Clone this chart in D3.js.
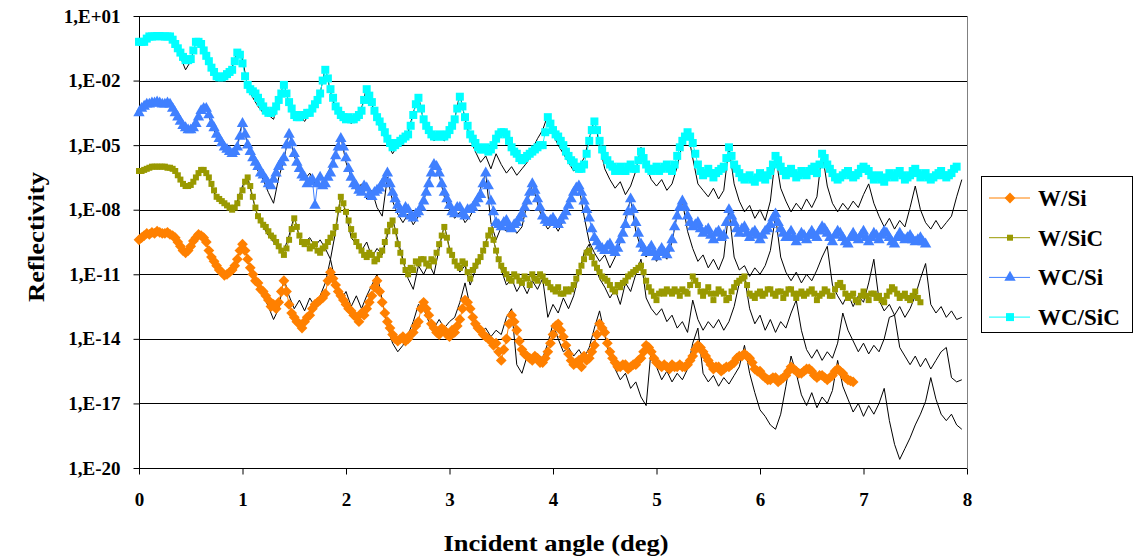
<!DOCTYPE html>
<html>
<head>
<meta charset="utf-8">
<script src="https://cdn.jsdelivr.net/npm/d3@7/dist/d3.min.js"></script>
<style>
  body { margin: 0; background: #fff; }
  svg { display: block; font-family: "Liberation Serif", "Times New Roman", serif; font-weight: bold; }
</style>
</head>
<body>
<svg id="chart"></svg>
<script>
// measured scans are sampled every 0.025 deg, simulations every 0.05 deg, both from 0 deg
const DATA_STEP = 0.025;
const FIT_STEP = 0.05;

// log10(reflectivity), measured, one row = 0.5 deg
const wSi = [
  -9.4,-9.3,-9.2,-9.1,-9.15,-9.05,-9.1,-9.0,-9.05,-9.1,-9.1,-9.05,-9.15,-9.2,-9.3,-9.5,-9.7,-9.9,-10.0,-9.9,
  -9.7,-9.45,-9.3,-9.15,-9.2,-9.3,-9.5,-9.9,-10.2,-10.4,-10.6,-10.8,-10.9,-11.05,-11.0,-10.9,-10.8,-10.6,-10.3,-9.9,
  -9.6,-9.9,-10.3,-10.7,-11.0,-11.3,-11.4,-11.7,-11.8,-12.0,-12.2,-12.5,-12.4,-12.6,-12.3,-11.8,-11.3,-11.8,-12.4,-12.8,
  -13.0,-13.2,-13.3,-13.5,-13.2,-13.0,-12.9,-12.6,-12.4,-12.3,-12.2,-12.1,-11.9,-11.3,-10.9,-11.2,-11.5,-11.8,-12.0,-12.2,
  -12.4,-12.6,-12.7,-12.9,-13.0,-13.2,-12.8,-12.9,-12.6,-12.3,-12.0,-11.6,-11.3,-11.8,-12.3,-12.8,-13.2,-13.5,-13.8,-14.0,
  -14.1,-14.0,-13.9,-14.1,-14.0,-13.8,-13.7,-13.4,-13.2,-12.6,-12.3,-12.6,-12.9,-13.3,-13.5,-13.7,-13.8,-13.5,-13.6,-13.8,
  -13.9,-13.6,-13.7,-13.4,-13.1,-12.6,-12.2,-12.3,-12.6,-13.0,-13.3,-13.5,-13.6,-13.8,-13.9,-14.0,-14.1,-14.3,-14.2,-14.6,
  -15.0,-14.5,-14.0,-13.3,-12.9,-13.2,-13.6,-14.1,-14.5,-14.7,-14.8,-14.9,-15.0,-14.8,-14.9,-15.1,-15.1,-14.9,-14.6,-14.2,
  -13.8,-13.4,-13.3,-13.6,-13.9,-14.3,-14.7,-15.0,-15.2,-15.1,-15.0,-15.3,-14.8,-15.0,-14.9,-14.6,-14.3,-13.8,-13.3,-13.5,
  -13.7,-14.2,-14.6,-14.9,-15.1,-15.3,-15.3,-15.2,-15.2,-15.4,-15.3,-15.2,-15.2,-15.0,-14.9,-14.6,-14.3,-14.4,-14.6,-14.9,
  -15.1,-15.2,-15.3,-15.2,-15.3,-15.4,-15.2,-15.3,-15.3,-15.2,-15.3,-15.3,-15.2,-15.0,-14.8,-14.5,-14.3,-14.4,-14.6,-14.8,
  -15.0,-15.2,-15.4,-15.3,-15.3,-15.5,-15.4,-15.3,-15.3,-15.2,-15.1,-14.9,-14.8,-14.8,-14.7,-14.8,-14.9,-15.1,-15.4,-15.5,
  -15.5,-15.7,-15.8,-15.9,-15.9,-15.8,-15.8,-16.0,-15.9,-15.8,-15.7,-15.5,-15.3,-15.4,-15.5,-15.6,-15.6,-15.5,-15.4,-15.4,
  -15.5,-15.7,-15.8,-15.7,-15.7,-15.8,-15.9,-15.8,-15.7,-15.5,-15.4,-15.5,-15.6,-15.8,-15.9,-15.95,-16.0
];
const wSiC = [
  -6.2,-6.2,-6.15,-6.1,-6.05,-6.0,-6.0,-6.0,-6.0,-6.0,-6.0,-6.05,-6.05,-6.1,-6.2,-6.4,-6.6,-6.8,-6.9,-6.9,
  -6.85,-6.7,-6.5,-6.3,-6.15,-6.15,-6.3,-6.5,-6.8,-7.1,-7.4,-7.5,-7.6,-7.7,-7.8,-7.9,-8.0,-7.9,-7.7,-7.4,
  -7.1,-6.7,-6.5,-6.9,-7.4,-7.9,-8.3,-8.5,-8.7,-8.8,-9.0,-9.2,-9.3,-9.5,-9.7,-9.9,-10.1,-9.8,-9.4,-8.9,
  -8.4,-8.8,-9.2,-9.5,-9.6,-9.5,-9.8,-9.7,-9.6,-9.9,-10.0,-9.8,-9.7,-9.5,-9.3,-9.1,-8.8,-8.0,-7.4,-7.7,
  -8.1,-8.5,-8.9,-9.2,-9.5,-9.7,-9.9,-10.1,-10.2,-10.0,-10.1,-10.4,-10.3,-10.1,-9.9,-9.5,-9.0,-8.7,-8.5,-9.0,
  -9.6,-10.0,-10.4,-10.8,-11.0,-10.7,-10.8,-10.4,-10.5,-10.3,-10.3,-10.5,-10.6,-10.3,-10.4,-10.0,-9.6,-9.2,-8.8,-9.3,
  -9.9,-10.1,-10.4,-10.6,-10.7,-10.4,-10.5,-10.9,-11.2,-10.8,-10.6,-10.4,-10.2,-9.9,-9.6,-9.2,-8.95,-9.4,-9.9,-10.3,
  -10.6,-10.8,-11.0,-11.2,-11.3,-11.0,-11.1,-11.3,-11.4,-11.1,-11.2,-11.5,-11.0,-11.2,-11.3,-11.0,-11.1,-11.3,-11.4,-11.6,
  -11.7,-11.8,-11.6,-11.9,-11.9,-11.7,-11.8,-11.7,-11.5,-11.2,-10.9,-10.6,-10.3,-10.0,-9.9,-10.2,-10.5,-10.7,-10.9,-11.1,
  -11.2,-11.3,-11.5,-11.7,-11.8,-11.5,-11.6,-11.4,-11.3,-11.1,-11.0,-10.9,-10.8,-10.7,-10.6,-10.9,-11.3,-11.6,-11.8,-12.0,
  -12.2,-11.9,-11.8,-11.9,-11.7,-11.8,-11.9,-11.7,-11.8,-12.0,-11.7,-11.8,-11.9,-11.5,-11.1,-11.3,-11.5,-11.8,-12.0,-11.8,
  -11.6,-11.9,-12.2,-11.9,-11.7,-11.8,-11.9,-12.2,-12.1,-11.8,-11.6,-11.4,-11.3,-11.2,-11.1,-11.5,-11.9,-12.0,-12.1,-11.9,
  -11.8,-12.0,-11.9,-11.7,-11.7,-11.9,-12.0,-11.8,-11.8,-12.1,-11.9,-11.7,-11.7,-11.9,-12.1,-11.9,-11.8,-12.0,-11.9,-11.8,
  -11.7,-11.9,-12.2,-12.0,-11.9,-11.7,-11.8,-12.0,-12.0,-11.7,-11.5,-11.4,-11.6,-11.9,-12.1,-12.0,-11.9,-12.2,-12.3,-12.0,
  -11.8,-12.0,-12.2,-11.9,-11.9,-12.1,-12.0,-12.2,-12.3,-12.0,-11.8,-11.6,-11.7,-11.9,-12.1,-12.0,-11.9,-12.1,-12.2,-12.0,
  -11.8,-12.1,-12.3
];
const wcSi = [
  -3.5,-3.3,-3.2,-3.1,-3.1,-3.05,-3.05,-3.0,-3.05,-3.1,-3.1,-3.05,-3.1,-3.3,-3.5,-3.7,-3.9,-4.1,-4.2,-4.3,
  -4.3,-4.2,-4.0,-3.7,-3.4,-3.3,-3.3,-3.6,-4.0,-4.2,-4.5,-4.7,-4.9,-5.1,-5.2,-5.3,-5.4,-5.3,-5.1,-4.6,
  -4.0,-4.5,-5.0,-5.3,-5.6,-5.8,-6.0,-6.3,-6.4,-6.6,-6.8,-6.9,-6.6,-6.3,-6.0,-5.8,-5.6,-5.0,-4.5,-4.9,
  -5.4,-5.8,-6.1,-6.4,-6.5,-6.8,-6.7,-6.6,-7.8,-6.8,-6.5,-6.9,-6.8,-6.5,-6.3,-5.9,-5.5,-5.1,-4.7,-5.1,
  -5.6,-6.1,-6.5,-6.8,-6.9,-7.1,-7.2,-6.9,-7.0,-7.3,-7.4,-7.2,-7.1,-7.0,-6.8,-6.6,-6.3,-6.8,-7.2,-7.5,
  -7.8,-8.0,-8.2,-7.9,-8.0,-8.3,-8.4,-8.2,-8.1,-7.9,-7.6,-7.2,-6.8,-6.3,-5.9,-6.0,-6.3,-6.8,-7.2,-7.5,
  -7.8,-8.1,-8.2,-7.9,-7.9,-8.2,-8.3,-8.0,-8.0,-7.9,-7.7,-7.5,-7.3,-6.8,-6.3,-6.9,-7.6,-8.1,-8.6,-8.7,
  -8.8,-8.6,-8.5,-8.8,-8.9,-8.7,-8.6,-8.4,-8.2,-7.9,-7.6,-7.2,-6.8,-7.1,-7.5,-7.9,-8.3,-8.5,-8.6,-8.5,
  -8.4,-8.6,-8.7,-8.5,-8.3,-8.1,-7.8,-7.5,-7.2,-7.0,-6.9,-7.2,-7.6,-8.0,-8.4,-8.9,-9.3,-9.5,-9.7,-9.8,
  -9.9,-9.7,-9.6,-9.9,-10.0,-9.8,-9.4,-9.1,-8.7,-8.1,-7.5,-8.0,-8.6,-9.1,-9.6,-9.8,-10.0,-9.9,-9.7,-10.0,
  -10.2,-10.0,-9.8,-10.0,-10.1,-9.8,-9.4,-8.8,-8.3,-7.9,-7.6,-7.9,-8.3,-8.6,-8.8,-8.7,-8.6,-8.9,-9.1,-9.0,
  -8.9,-9.2,-9.4,-9.1,-9.0,-9.3,-9.2,-8.6,-8.0,-8.3,-8.6,-8.9,-9.1,-8.9,-8.8,-9.1,-9.3,-9.1,-9.0,-9.2,
  -9.4,-9.2,-9.0,-8.9,-8.7,-8.4,-8.2,-8.6,-8.9,-9.1,-9.3,-9.2,-9.0,-9.3,-9.5,-9.3,-9.1,-9.2,-9.4,-9.2,
  -9.0,-9.2,-9.3,-9.0,-8.8,-8.9,-9.1,-9.3,-9.5,-9.2,-9.0,-9.1,-9.3,-9.5,-9.6,-9.3,-9.1,-9.3,-9.4,-9.2,
  -9.0,-9.3,-9.5,-9.3,-9.1,-9.2,-9.4,-9.2,-9.0,-9.1,-9.3,-9.5,-9.6,-9.3,-9.1,-9.3,-9.4,-9.3,-9.2,-9.4,
  -9.5,-9.4,-9.3,-9.5,-9.6
];
const wcSiC = [
  -0.2,-0.2,-0.2,-0.05,0.05,0.05,0.05,0.07,0.07,0.05,0.05,0.05,0.05,-0.1,-0.3,-0.5,-0.7,-0.9,-1.05,-1.05,
  -1.0,-0.6,-0.2,-0.2,-0.3,-0.6,-0.85,-1.1,-1.4,-1.6,-1.8,-1.85,-1.85,-1.8,-1.7,-1.6,-1.5,-1.1,-0.7,-0.8,
  -1.2,-1.8,-2.2,-2.4,-2.5,-2.6,-2.8,-3.0,-3.2,-3.4,-3.5,-3.5,-3.4,-3.2,-2.9,-2.6,-2.2,-2.6,-3.0,-3.3,
  -3.6,-3.7,-3.7,-3.6,-3.6,-3.5,-3.5,-3.3,-3.1,-2.9,-2.6,-2.0,-1.5,-1.9,-2.4,-2.8,-3.2,-3.4,-3.6,-3.7,
  -3.8,-3.7,-3.8,-3.8,-3.7,-3.6,-3.4,-2.9,-2.4,-2.7,-3.0,-3.4,-3.7,-3.9,-4.15,-4.4,-4.7,-4.9,-5.1,-5.0,
  -4.9,-4.8,-4.7,-4.6,-4.5,-4.1,-3.6,-3.1,-2.8,-3.3,-3.8,-4.1,-4.3,-4.5,-4.6,-4.6,-4.5,-4.6,-4.6,-4.5,
  -4.3,-4.1,-3.8,-3.3,-2.75,-3.2,-3.7,-4.1,-4.5,-4.7,-4.9,-5.1,-5.2,-5.2,-5.1,-5.3,-5.2,-5.0,-4.7,-4.5,
  -4.4,-4.4,-4.5,-4.8,-5.1,-5.3,-5.4,-5.6,-5.7,-5.6,-5.5,-5.4,-5.3,-5.2,-5.1,-5.0,-5.0,-4.4,-3.7,-4.0,
  -4.3,-4.5,-4.6,-4.8,-5.0,-5.3,-5.5,-5.7,-5.8,-6.0,-6.1,-6.1,-5.9,-5.4,-4.8,-4.3,-3.9,-4.3,-4.8,-5.2,
  -5.5,-5.7,-5.9,-6.0,-6.2,-6.1,-6.0,-6.2,-6.2,-6.0,-5.9,-6.1,-6.1,-5.7,-5.3,-5.6,-5.9,-6.1,-6.2,-6.1,
  -6.0,-6.2,-6.1,-6.0,-5.9,-6.1,-6.2,-5.9,-5.5,-5.1,-4.8,-4.6,-4.4,-4.6,-4.9,-5.4,-5.9,-6.2,-6.4,-6.3,
  -6.1,-6.3,-6.5,-6.3,-6.2,-6.1,-6.0,-5.6,-5.1,-5.5,-5.9,-6.1,-6.3,-6.5,-6.6,-6.5,-6.4,-6.6,-6.7,-6.5,
  -6.3,-6.5,-6.6,-6.4,-6.2,-5.9,-5.5,-5.7,-6.0,-6.2,-6.4,-6.3,-6.1,-6.3,-6.5,-6.4,-6.2,-6.3,-6.4,-6.2,
  -6.1,-6.0,-6.3,-5.9,-5.4,-5.6,-5.9,-6.1,-6.3,-6.5,-6.6,-6.5,-6.4,-6.3,-6.2,-6.4,-6.5,-6.4,-6.3,-6.1,
  -6.0,-6.1,-6.2,-6.4,-6.6,-6.5,-6.4,-6.6,-6.7,-6.5,-6.3,-6.4,-6.5,-6.3,-6.2,-6.4,-6.6,-6.5,-6.4,-6.2,
  -6.1,-6.3,-6.5,-6.4,-6.3,-6.5,-6.6,-6.5,-6.4,-6.3,-6.2,-6.4,-6.5,-6.4,-6.3,-6.1,-6.0
];

// log10(reflectivity), simulated curves (thin black), 0 .. 7.95 deg
const wSiFit = [
  -9.3,-9.1,-9.05,-9.05,-9.0,-9.05,-9.1,-9.3,-9.8,-10.1,
  -9.8,-9.3,-9.2,-9.5,-10.2,-10.7,-11.0,-11.1,-10.8,-10.2,
  -9.5,-10.3,-11.1,-11.6,-12.0,-12.5,-13.1,-12.6,-11.2,-12.0,
  -12.6,-12.2,-12.7,-12.1,-12.5,-12.0,-11.4,-10.3,-11.4,-12.2,
  -11.8,-12.5,-12.0,-12.6,-12.0,-11.5,-11.0,-12.2,-13.4,-14.2,
  -14.6,-14.3,-13.8,-13.2,-12.4,-12.6,-13.2,-13.5,-13.1,-13.5,
  -13.2,-13.0,-12.3,-11.4,-12.5,-13.3,-13.7,-13.5,-13.9,-13.6,
  -13.8,-13.0,-12.6,-15.2,-15.6,-14.8,-15.1,-14.7,-14.9,-14.2,
  -13.3,-14.0,-14.6,-14.4,-14.8,-14.5,-14.9,-14.4,-13.5,-12.7,
  -13.8,-14.9,-15.4,-15.9,-15.6,-16.3,-16.0,-16.7,-17.1,-14.4,
  -15.3,-15.9,-15.5,-16.0,-15.6,-15.9,-15.4,-14.2,-13.5,-15.6,
  -16.0,-15.7,-16.2,-15.8,-16.1,-15.7,-15.3,-14.3,-15.6,-16.5,
  -17.3,-17.6,-18.0,-18.2,-17.5,-16.2,-14.8,-15.6,-16.6,-17.1,
  -16.5,-17.2,-16.7,-17.0,-16.4,-15.0,-16.2,-16.8,-17.4,-17.0,
  -17.6,-17.1,-17.5,-17.0,-16.3,-17.8,-18.9,-19.6,-19.1,-18.6,
  -18.0,-17.5,-16.9,-15.8,-16.8,-17.5,-17.8,-17.5,-18.0,-18.2
];
const wSiCFit = [
  -6.2,-6.1,-6.0,-6.0,-5.95,-6.0,-6.05,-6.2,-6.6,-6.9,
  -6.8,-6.5,-6.1,-6.3,-6.9,-7.5,-7.7,-7.9,-8.0,-7.6,
  -6.9,-6.5,-7.5,-8.4,-8.8,-9.2,-9.5,-9.8,-9.9,-9.2,
  -8.3,-9.3,-9.5,-9.3,-9.7,-9.4,-9.8,-10.3,-9.0,-7.3,
  -8.2,-9.3,-9.6,-9.9,-9.5,-10.2,-9.8,-10.1,-9.2,-8.4,
  -9.4,-10.3,-11.2,-11.7,-10.6,-11.0,-10.5,-11.0,-9.8,-8.7,
  -9.8,-10.4,-10.9,-10.6,-11.5,-10.8,-10.3,-9.5,-8.9,-9.9,
  -10.8,-11.5,-11.2,-11.8,-11.4,-11.9,-11.3,-11.7,-11.2,-13.0,
  -12.4,-12.8,-12.1,-12.6,-12.0,-11.0,-10.0,-9.6,-10.5,-11.2,
  -11.6,-12.1,-11.7,-12.4,-11.4,-11.8,-11.0,-10.3,-12.1,-12.6,
  -12.9,-12.6,-13.2,-12.9,-13.5,-13.2,-13.7,-12.2,-13.1,-13.6,
  -13.2,-13.5,-13.1,-13.6,-13.2,-12.5,-11.4,-11.1,-12.6,-13.3,
  -12.9,-13.6,-13.1,-13.7,-13.2,-13.5,-12.8,-12.2,-13.6,-14.5,
  -14.9,-14.5,-15.0,-14.6,-14.9,-14.2,-12.8,-13.6,-14.1,-14.6,
  -14.2,-14.7,-14.3,-14.6,-14.0,-13.0,-12.9,-14.4,-14.8,-15.2,
  -14.8,-15.3,-14.9,-15.4,-15.0,-14.6,-14.4,-15.8,-16.0,-15.9
];
const wcSiFit = [
  -3.5,-3.2,-3.05,-3.0,-3.0,-3.05,-3.1,-3.5,-4.0,-4.3,
  -4.3,-3.9,-3.4,-3.3,-4.0,-4.6,-5.0,-5.3,-5.5,-5.0,
  -3.9,-5.0,-5.7,-6.2,-6.6,-7.2,-7.7,-6.5,-5.7,-4.4,
  -5.5,-6.2,-6.6,-6.3,-6.8,-6.4,-6.6,-6.0,-5.3,-4.6,
  -5.8,-6.5,-7.1,-6.8,-7.5,-7.1,-7.9,-8.3,-6.5,-7.6,
  -8.2,-8.6,-8.2,-8.7,-8.3,-7.6,-6.7,-5.8,-6.4,-7.4,
  -8.0,-8.4,-8.1,-8.6,-8.3,-7.8,-7.0,-6.3,-8.6,-9.4,
  -8.8,-9.0,-8.7,-9.1,-8.8,-7.7,-6.8,-7.7,-8.5,-8.9,
  -8.6,-9.0,-8.5,-7.8,-7.0,-6.9,-8.3,-9.5,-10.0,-10.4,
  -10.1,-10.7,-10.2,-9.5,-8.4,-7.5,-9.0,-9.8,-10.2,-9.9,
  -10.4,-10.0,-10.3,-9.5,-8.2,-7.6,-9.0,-9.8,-10.4,-10.1,
  -10.7,-10.3,-10.8,-10.2,-8.0,-10.2,-10.8,-10.6,-11.1,-10.7,
  -11.0,-10.6,-9.9,-8.3,-10.2,-10.9,-11.3,-10.9,-11.4,-11.0,
  -11.3,-10.8,-10.2,-9.7,-11.5,-12.0,-12.4,-11.9,-12.5,-12.0,
  -12.3,-11.4,-10.3,-12.2,-12.7,-12.4,-12.9,-12.5,-13.0,-12.6,
  -12.0,-11.2,-10.5,-12.4,-12.8,-12.5,-13.0,-12.7,-13.1,-13.0
];
const wcSiCFit = [
  -0.2,-0.15,0.05,0.08,0.08,0.05,0.0,-0.3,-0.9,-1.5,
  -1.1,-0.2,-0.3,-0.9,-1.5,-1.9,-2.0,-1.8,-1.4,-0.6,
  -1.0,-2.3,-2.8,-3.2,-3.5,-3.6,-3.8,-3.0,-2.1,-3.1,
  -3.8,-3.6,-3.9,-3.5,-3.2,-2.6,-1.4,-2.5,-3.4,-3.8,
  -3.6,-4.0,-3.7,-3.3,-2.3,-3.1,-3.9,-4.4,-4.9,-5.4,
  -5.0,-4.8,-4.4,-3.5,-2.7,-3.9,-4.5,-4.8,-4.6,-4.8,
  -4.4,-3.8,-2.6,-3.8,-4.7,-5.3,-5.8,-5.5,-6.1,-5.4,
  -5.9,-6.3,-6.0,-6.4,-6.1,-5.8,-5.2,-4.7,-4.3,-3.6,
  -4.5,-5.0,-5.4,-5.8,-6.2,-6.0,-5.6,-4.7,-3.8,-5.0,
  -6.1,-6.6,-7.0,-6.7,-7.3,-6.9,-6.2,-5.1,-6.0,-6.6,
  -6.9,-6.6,-7.1,-6.8,-6.0,-4.9,-4.3,-5.6,-6.8,-7.1,
  -7.4,-7.0,-7.5,-7.1,-5.1,-6.8,-7.6,-8.1,-7.8,-8.4,
  -8.0,-8.5,-7.6,-5.5,-7.0,-7.6,-8.1,-7.7,-8.0,-7.5,
  -7.9,-7.4,-5.3,-6.9,-7.7,-8.1,-7.7,-8.0,-7.6,-7.9,
  -7.3,-6.8,-7.7,-8.3,-8.8,-8.4,-8.9,-8.5,-8.8,-7.9,
  -6.9,-8.0,-8.6,-8.9,-8.5,-8.9,-8.6,-8.3,-7.4,-6.6
];

const xTicks = [0, 1, 2, 3, 4, 5, 6, 7, 8];
const yTickExp = [1, -2, -5, -8, -11, -14, -17, -20];

const series = [
  { name: "W/Si",   data: wSi,   fit: wSiFit,   color: "#ff8000", shape: "diamond"  },
  { name: "W/SiC",  data: wSiC,  fit: wSiCFit,  color: "#999900", shape: "smallsq"  },
  { name: "WC/Si",  data: wcSi,  fit: wcSiFit,  color: "#4080ff", shape: "triangle" },
  { name: "WC/SiC", data: wcSiC, fit: wcSiCFit, color: "#00ffff", shape: "square"   }
];

const FONT = "Liberation Serif, Times New Roman, serif";
const width = 1133, height = 558;
const plot = { left: 139, right: 967, top: 16, bottom: 468 };

const svg = d3.select("#chart").attr("width", width).attr("height", height);
svg.append("rect").attr("width", width).attr("height", height).attr("fill", "#fff");

const x = d3.scaleLinear().domain([0, 8]).range([plot.left, plot.right]);
const y = d3.scaleLog().domain([1e-20, 10]).range([plot.bottom, plot.top]);

const toPoints = (arr, step) => arr.map((e, i) => ({ a: i * step, r: Math.pow(10, e) }));

// grid lines
svg.append("g")
  .selectAll("line")
  .data(yTickExp)
  .join("line")
  .attr("x1", plot.left).attr("x2", plot.right)
  .attr("y1", d => Math.round(y(Math.pow(10, d))) + 0.5)
  .attr("y2", d => Math.round(y(Math.pow(10, d))) + 0.5)
  .attr("stroke", "#000").attr("stroke-width", 1);

// right edge of plot area
svg.append("line")
  .attr("x1", plot.right + 0.5).attr("x2", plot.right + 0.5)
  .attr("y1", plot.top).attr("y2", plot.bottom)
  .attr("stroke", "#808080");

const fmt = e => "1,E" + (e >= 0 ? "+" : "-") + String(Math.abs(e)).padStart(2, "0");

const yAxis = svg.append("g")
  .attr("transform", `translate(${plot.left + 0.5},0)`)
  .call(d3.axisLeft(y)
    .tickValues(yTickExp.map(e => Math.pow(10, e)))
    .tickFormat(d => fmt(Math.round(Math.log10(d))))
    .tickSize(6)
    .tickPadding(13));

const xAxis = svg.append("g")
  .attr("transform", `translate(0,${plot.bottom + 0.5})`)
  .call(d3.axisBottom(x).tickValues(xTicks).tickFormat(d3.format("d")).tickSize(6).tickPadding(18));

[xAxis, yAxis].forEach(ax => {
  ax.attr("font-family", FONT).attr("font-size", 19).attr("font-weight", "bold");
  ax.selectAll("text").attr("fill", "#000");
  ax.selectAll(".tick line").attr("stroke", "#000");
  ax.select(".domain").attr("stroke", "#000");
});
xAxis.select(".domain").attr("d", `M${plot.left},0H${plot.right}`);
yAxis.select(".domain").attr("d", `M0,${plot.top}V${plot.bottom}`);

// simulated curves
const line = d3.line().x(d => x(d.a)).y(d => y(d.r));

svg.append("g")
  .selectAll("path")
  .data(series)
  .join("path")
  .attr("d", d => line(toPoints(d.fit, FIT_STEP)))
  .attr("fill", "none")
  .attr("stroke", "#000")
  .attr("stroke-width", 1);

function markerPath(shape) {
  if (shape === "diamond") return d3.symbol(d3.symbolSquare, 58)();
  if (shape === "smallsq") return d3.symbol(d3.symbolSquare, 36)();
  if (shape === "square") return d3.symbol(d3.symbolSquare, 64)();
  return d3.symbol(d3.symbolTriangle, 56)();
}
const markerRotate = shape => shape === "diamond" ? " rotate(45)" : "";

// measured data
series.forEach(s => {
  const pts = toPoints(s.data, DATA_STEP);
  const g = svg.append("g");
  g.append("path")
    .attr("d", line(pts))
    .attr("fill", "none")
    .attr("stroke", s.color)
    .attr("stroke-width", 1);
  g.selectAll("path.mk")
    .data(pts)
    .join("path")
    .attr("class", "mk")
    .attr("d", markerPath(s.shape))
    .attr("transform", d => `translate(${x(d.a)},${y(d.r)})` + markerRotate(s.shape))
    .attr("fill", s.color);
});

// axis titles
svg.append("text")
  .attr("x", 556).attr("y", 551)
  .attr("text-anchor", "middle")
  .attr("font-family", FONT)
  .attr("font-size", 24)
  .attr("textLength", 225).attr("lengthAdjust", "spacingAndGlyphs")
  .text("Incident angle (deg)");

svg.append("text")
  .attr("transform", "translate(44,237) rotate(-90)")
  .attr("text-anchor", "middle")
  .attr("font-family", FONT)
  .attr("font-size", 24)
  .attr("textLength", 130).attr("lengthAdjust", "spacingAndGlyphs")
  .text("Reflectivity");

// legend
const legend = svg.append("g").attr("transform", "translate(981,176)");
legend.append("rect")
  .attr("x", 0.5).attr("y", 0.5)
  .attr("width", 151).attr("height", 156)
  .attr("fill", "#fff").attr("stroke", "#000");

const legendItem = legend.selectAll("g.item")
  .data(series)
  .join("g")
  .attr("class", "item")
  .attr("transform", (d, i) => `translate(0,${22 + i * 39.7})`);

legendItem.append("line")
  .attr("x1", 8).attr("x2", 49)
  .attr("stroke", d => d.color);
legendItem.append("path")
  .attr("d", d => markerPath(d.shape))
  .attr("transform", d => "translate(29,0)" + markerRotate(d.shape))
  .attr("fill", d => d.color);
legendItem.append("text")
  .attr("x", 57).attr("y", 8)
  .attr("font-family", FONT)
  .attr("font-size", 23)
  .text(d => d.name);
</script>
</body>
</html>
